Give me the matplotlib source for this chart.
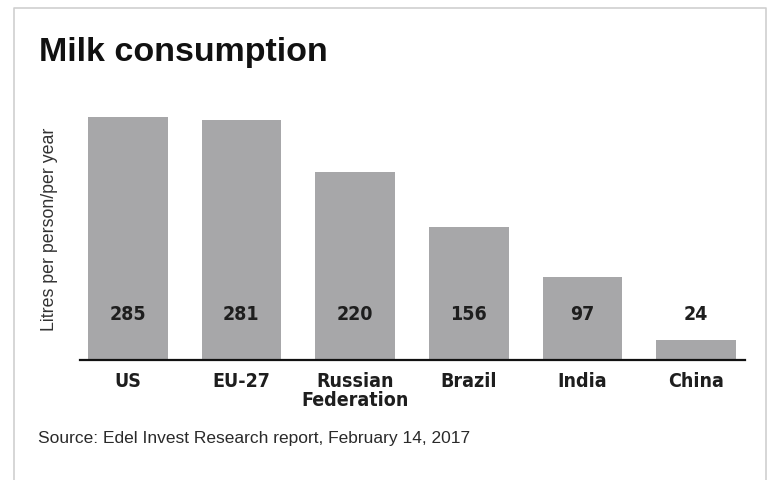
import matplotlib.pyplot as plt
from matplotlib.lines import Line2D

countries = ["US", "EU-27", "Russian\nFederation", "Brazil", "India", "China"]
litres = [285, 281, 220, 156, 97, 24]

bar_color = "#a7a7a9"
text_color = "#1e1e1e"
narrow = dict(family="DejaVu Sans", stretch="condensed", weight="bold", size=14)

fig = plt.figure(figsize=(7.69, 4.81), dpi=100)
ax = fig.add_axes([80 / 769, (481 - 361) / 481, 665 / 769, 256 / 481])

x = range(len(countries))
ax.bar(x, litres, width=0.7, color=bar_color, zorder=2)
ax.set_xlim(-0.42, 5.43)
ax.set_ylim(0, 300)

# value labels sit at a fixed height inside the bars (above for China)
for i, v in enumerate(litres):
    ax.text(i, 54, str(v), ha="center", va="center", color=text_color,
            **narrow)

ax.set_xticks(list(x))
ax.set_xticklabels(countries, color=text_color, linespacing=1.02, va="top",
                   **narrow)
ax.tick_params(axis="x", length=0, pad=8)
ax.set_yticks([])
for s in ["top", "right", "left"]:
    ax.spines[s].set_visible(False)
ax.spines["bottom"].set_color("#111111")
ax.spines["bottom"].set_linewidth(1.6)

fig.text(39 / 769, 1 - 53 / 481, "Milk consumption", fontsize=24.5,
         fontweight="bold", family="Liberation Sans", color="#111111",
         va="center", ha="left")
fig.text(50 / 769, 1 - 229 / 481, "Litres per person/per year", rotation=90,
         fontsize=12.8, family="Liberation Sans", color="#333333",
         va="center", ha="center")
fig.text(38 / 769, 1 - 438 / 481,
         "Source: Edel Invest Research report, February 14, 2017",
         fontsize=12.5, family="Liberation Sans", color="#2a2a2a",
         va="center", ha="left")

# light frame around the graphic
frame_x = [14 / 769, 14 / 769, 766 / 769, 766 / 769]
frame_y = [0, 1 - 9 / 481, 1 - 9 / 481, 0]
fig.add_artist(Line2D(frame_x, frame_y, transform=fig.transFigure,
                      color="#cfcfcf", linewidth=1.2))

fig.savefig("out.png", dpi=100)
